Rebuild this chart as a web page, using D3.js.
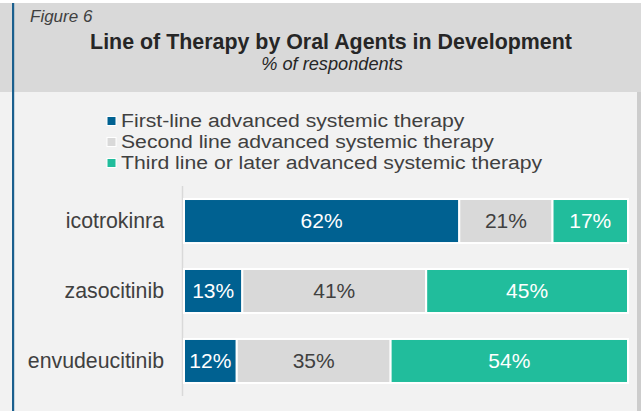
<!DOCTYPE html>
<html>
<head>
<meta charset="utf-8">
<script src="https://cdn.jsdelivr.net/npm/d3@7"></script>
<style>
  html, body { margin: 0; padding: 0; background: #ffffff; }
  svg { display: block; font-family: "Liberation Sans", Arial, sans-serif; }
</style>
</head>
<body>
<svg id="chart" width="641" height="411"></svg>
<script>
// ---- data ----
const categories = ["icotrokinra", "zasocitinib", "envudeucitinib"];
const seriesNames = [
  "First-line advanced systemic therapy",
  "Second line advanced systemic therapy",
  "Third line or later advanced systemic therapy"
];
const firstLine  = [62, 13, 12];
const secondLine = [21, 41, 35];
const thirdLine  = [17, 45, 54];
const colors = ["#006191", "#d9d9d9", "#21bd9c"];
const labelColors = ["#ffffff", "#404040", "#ffffff"];

const svg = d3.select("#chart");
const W = 641, H = 411;

// ---- background ----
svg.append("rect").attr("x", 0).attr("y", 3).attr("width", W).attr("height", 89).attr("fill", "#d9d9d9");
svg.append("rect").attr("x", 0).attr("y", 92).attr("width", 637).attr("height", H - 92).attr("fill", "#f2f2f2");
svg.append("rect").attr("x", 637).attr("y", 92).attr("width", 4).attr("height", H - 92).attr("fill", "#cdcdcd");
svg.append("rect").attr("x", 12).attr("y", 3).attr("width", 2.2).attr("height", H - 3).attr("fill", "#1a5f8e");

// ---- titles ----
svg.append("text").attr("x", 30).attr("y", 22)
  .attr("font-size", 17).attr("font-style", "italic").attr("fill", "#404040")
  .text("Figure 6");
svg.append("text").attr("x", 331).attr("y", 49).attr("text-anchor", "middle")
  .attr("font-size", 21.4).attr("font-weight", "bold").attr("fill", "#262626")
  .text("Line of Therapy by Oral Agents in Development");
svg.append("text").attr("x", 332).attr("y", 70).attr("text-anchor", "middle")
  .attr("font-size", 18.2).attr("font-style", "italic").attr("fill", "#262626")
  .text("% of respondents");

// ---- legend ----
const legend = svg.append("g");
const legendText = legend.append("g").attr("transform", "translate(121,0) scale(1.19,1)");
seriesNames.forEach((name, i) => {
  const cy = 121 + i * 21;
  legend.append("rect").attr("x", 107).attr("y", cy - 4.5).attr("width", 9).attr("height", 9)
    .attr("fill", colors[i]).attr("stroke", "#ffffff").attr("stroke-width", 1);
  legendText.append("text").attr("x", 0).attr("y", cy).attr("dy", "0.35em")
    .attr("font-size", 17.8).attr("fill", "#404040").text(name);
});

// ---- scales ----
const x = d3.scaleLinear().domain([0, 1]).range([184, 628]);
const y = d3.scaleBand().domain(categories).range([186, 396])
  .paddingInner(0.371).paddingOuter(0.186);

// axis line
svg.append("line").attr("x1", 182.5).attr("x2", 182.5)
  .attr("y1", y.range()[0]).attr("y2", y.range()[1])
  .attr("stroke", "#d9d9d9").attr("stroke-width", 1.5);

// category labels
svg.append("g").selectAll("text").data(categories).join("text")
  .attr("x", 164).attr("y", d => y(d) + y.bandwidth() / 2).attr("dy", "0.35em")
  .attr("text-anchor", "end").attr("font-size", 21.3).attr("fill", "#404040")
  .text(d => d);

// stacked data (normalized to row totals)
const rows = categories.map((c, i) => {
  const vals = [firstLine[i], secondLine[i], thirdLine[i]];
  const total = d3.sum(vals);
  let acc = 0;
  return vals.map((v, k) => {
    const seg = { cat: c, k, v, x0: acc / total, x1: (acc + v) / total };
    acc += v;
    return seg;
  });
}).flat();

const bars = svg.append("g");
bars.selectAll("rect").data(rows).join("rect")
  .attr("x", d => x(d.x0)).attr("width", d => x(d.x1) - x(d.x0))
  .attr("y", d => y(d.cat)).attr("height", y.bandwidth())
  .attr("fill", d => colors[d.k]).attr("stroke", "#ffffff").attr("stroke-width", 2);

bars.selectAll("text").data(rows).join("text")
  .attr("x", d => (x(d.x0) + x(d.x1)) / 2)
  .attr("y", d => y(d.cat) + y.bandwidth() / 2).attr("dy", "0.35em")
  .attr("text-anchor", "middle").attr("font-size", 21)
  .attr("fill", d => labelColors[d.k])
  .text(d => d.v + "%");
</script>
</body>
</html>
